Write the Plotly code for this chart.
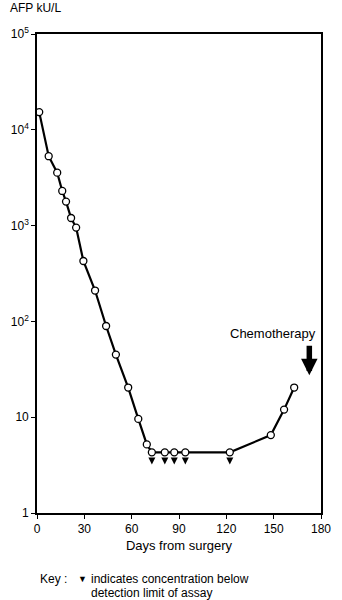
import numpy as np
import plotly.graph_objects as go

# Data
days = [1.4, 7.4, 12.8, 16.0, 18.4, 21.6, 24.8, 29.4, 36.8, 43.8, 50.0,
        57.8, 64.2, 69.6, 72.8, 81.0, 87.0, 94.0, 122.2, 148.2, 156.6, 163.0]
afp = [15300, 5300, 3570, 2300, 1780, 1200, 953, 427, 210, 89.5, 45,
       20.4, 9.6, 5.2, 4.3, 4.3, 4.3, 4.3, 4.3, 6.5, 12.0, 20.4]

below_limit_days = [72.8, 81.0, 87.0, 94.0, 122.2]
below_limit_level = [3.2, 3.2, 3.2, 3.2, 3.2]

chemo_day = 172.6
chemo_level = 27.4

x_ticks = [0, 30, 60, 90, 120, 150, 180]
y_ticks = [1, 10, 100, 1000, 10000, 100000]
y_tick_text = ["1", "10", "10<sup>2</sup>", "10<sup>3</sup>", "10<sup>4</sup>", "10<sup>5</sup>"]

FONT = "Liberation Sans, Arial, sans-serif"

fig = go.Figure()
fig.add_trace(go.Scatter(
    x=days, y=afp, mode="lines+markers",
    line=dict(color="black", width=2.2),
    marker=dict(symbol="circle", size=7, color="white",
                line=dict(color="black", width=1.3)),
    showlegend=False, hoverinfo="skip"))
fig.add_trace(go.Scatter(
    x=below_limit_days, y=below_limit_level, mode="markers",
    marker=dict(symbol="arrow-down", size=7, color="black", line=dict(width=0)),
    showlegend=False, hoverinfo="skip"))

W, H = 342, 600
ml, mr, mt, mb = 31, 11, 34, 87
pw, ph = W - ml - mr, H - mt - mb

fig.update_layout(
    width=W, height=H,
    margin=dict(l=ml, r=mr, t=mt, b=mb, pad=0),
    paper_bgcolor="white", plot_bgcolor="white",
    font=dict(family=FONT, size=12, color="black"),
    xaxis=dict(range=[0, 180], tickvals=x_ticks, ticks="outside", ticklen=4,
               tickwidth=1.2, tickcolor="black", showline=True, linecolor="black",
               linewidth=1.6, mirror=True, showgrid=False, zeroline=False,
               tickfont=dict(size=12),
               title=dict(text="Days from surgery", font=dict(size=13), standoff=6)),
    yaxis=dict(type="log", range=[0, 5], tickvals=y_ticks, ticktext=y_tick_text,
               ticks="outside", ticklen=4, tickwidth=1.2, tickcolor="black",
               showline=True, linecolor="black", linewidth=1.6, mirror=True,
               showgrid=False, zeroline=False, tickfont=dict(size=12)),
)

fig.add_annotation(xref="paper", yref="paper", x=-ml / pw, y=1 + 26 / ph,
                   xanchor="left", yanchor="middle", showarrow=False,
                   text="AFP kU/L", font=dict(size=12))

fig.add_annotation(x=chemo_day, y=np.log10(chemo_level), ax=0, ay=-31,
                   showarrow=True, arrowhead=2, arrowwidth=5.5, arrowsize=0.6,
                   arrowcolor="black", standoff=0, text="")
fig.add_annotation(x=177.8, y=1.876, xanchor="right", yanchor="middle",
                   showarrow=False, text="Chemotherapy", font=dict(size=13))

fig.add_annotation(xref="paper", yref="paper", x=1 / pw, y=-66 / ph,
                   xanchor="left", yanchor="middle", showarrow=False,
                   text="Key :", font=dict(size=12))
fig.add_annotation(xref="paper", yref="paper", x=(72 - ml) / pw, y=-66 / ph,
                   xanchor="left", yanchor="middle", showarrow=False,
                   text="▼", font=dict(size=9))
fig.add_annotation(xref="paper", yref="paper", x=(86 - ml) / pw, y=-66 / ph,
                   xanchor="left", yanchor="middle", showarrow=False,
                   text="indicates concentration below", font=dict(size=12))
fig.add_annotation(xref="paper", yref="paper", x=(86 - ml) / pw, y=-80 / ph,
                   xanchor="left", yanchor="middle", showarrow=False,
                   text="detection limit of assay", font=dict(size=12))

fig.write_html("out.html")
